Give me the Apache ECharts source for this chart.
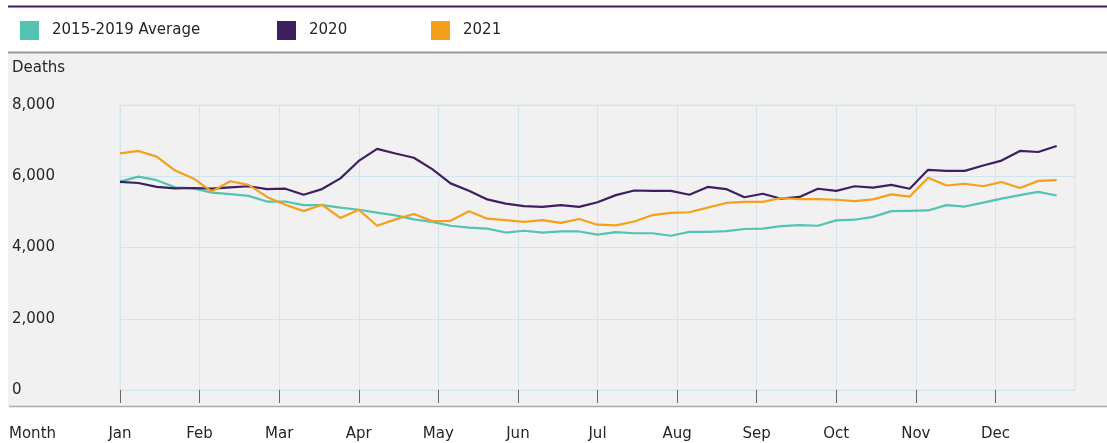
<!DOCTYPE html>
<html>
<head>
<meta charset="utf-8">
<script src="https://cdn.jsdelivr.net/npm/echarts@6/dist/echarts.min.js"></script>
<style>
  html, body { margin: 0; padding: 0; background: #fff; }
  #chart { width: 1107px; height: 443px; }
</style>
</head>
<body>
<div id="chart"></div>
<script>
// month labels, one per equal twelfth of the 52-week year
var months = ['Jan', 'Feb', 'Mar', 'Apr', 'May', 'Jun', 'Jul', 'Aug', 'Sep', 'Oct', 'Nov', 'Dec'];
var yTicks = [0, 2000, 4000, 6000, 8000];

// weekly deaths, weeks 1..52
var avg1519 = [5850, 5990, 5890, 5690, 5660, 5540, 5500, 5450, 5290, 5290, 5190, 5190, 5120, 5060, 4980, 4900, 4790, 4720, 4610,
  4560, 4530, 4420, 4470, 4420, 4450, 4450, 4360, 4430, 4400, 4400, 4330, 4440, 4440, 4460, 4520,
  4530, 4600, 4630, 4610, 4760, 4780, 4860, 5020, 5030, 5040, 5190, 5150, 5260, 5370, 5470, 5560, 5460];
var y2020 = [5840, 5810, 5700, 5660, 5670, 5650, 5690, 5720, 5640, 5650, 5480, 5640, 5940, 6430, 6770, 6640, 6520, 6200, 5800,
  5590, 5350, 5230, 5160, 5140, 5190, 5140, 5270, 5470, 5600, 5590, 5590, 5480, 5700, 5640, 5410,
  5510, 5370, 5420, 5650, 5590, 5720, 5680, 5760, 5650, 6180, 6150, 6150, 6300, 6440, 6710, 6680, 6850];
var y2021 = [6640, 6710, 6550, 6160, 5940, 5570, 5860, 5760, 5420, 5200, 5020, 5200, 4830, 5060, 4610, 4790, 4940, 4740, 4750,
  5020, 4810, 4770, 4720, 4770, 4690, 4800, 4640, 4620, 4730, 4910, 4970, 4990, 5120, 5250, 5280,
  5280, 5390, 5360, 5360, 5340, 5300, 5350, 5490, 5430, 5960, 5740, 5790, 5720, 5840, 5670, 5870, 5890];

var FONT = 'DejaVu Sans';
var TXT = '#262626';
var TEAL = '#55c3b2', PURPLE = '#3f1f5f', ORANGE = '#f5a01c';
var GRIDCOL = '#d3e4ee';
var monthStep = 52 / 12;
var monthVals = months.map(function (m, i) { return i * monthStep; });

function toPairs(arr) {
  return arr.map(function (v, i) { return [i, v]; });
}

function legendAt(left, name) {
  return {
    left: left, top: 21, padding: 0,
    icon: 'rect', itemWidth: 19, itemHeight: 19,
    selectedMode: false,
    textStyle: { fontFamily: FONT, fontSize: 15, color: TXT, padding: [0, 0, 0, 8] },
    data: [name]
  };
}

var chart = echarts.init(document.getElementById('chart'));

chart.setOption({
  animation: false,
  backgroundColor: '#fff',
  title: {
    text: 'Deaths', left: 12, top: 61, padding: 0,
    textStyle: { fontFamily: FONT, fontSize: 15, fontWeight: 'normal', color: TXT }
  },
  legend: [
    legendAt(20, '2015-2019 Average'),
    legendAt(277, '2020'),
    legendAt(431, '2021')
  ],
  graphic: [
    { type: 'rect', z: -10, silent: true, shape: { x: 8, y: 53, width: 1099, height: 353 }, style: { fill: '#f1f1f1' } },
    { type: 'line', silent: true, shape: { x1: 8, y1: 6.5, x2: 1107, y2: 6.5 }, style: { stroke: PURPLE, lineWidth: 2 } },
    { type: 'line', silent: true, shape: { x1: 8, y1: 52.5, x2: 1107, y2: 52.5 }, style: { stroke: '#999', lineWidth: 2 } },
    { type: 'line', silent: true, shape: { x1: 9, y1: 406.5, x2: 1107, y2: 406.5 }, style: { stroke: '#aaa', lineWidth: 1.5 } },
    { type: 'text', silent: true, left: 9, top: 427, style: { text: 'Month', fontFamily: FONT, fontSize: 15, fill: TXT } }
  ],
  grid: {
    left: 120, right: 32, top: 105, bottom: 53,
    show: true, borderColor: GRIDCOL, borderWidth: 1, backgroundColor: 'transparent'
  },
  xAxis: {
    type: 'value', min: 0, max: 52, interval: monthStep,
    position: 'bottom', offset: 16,
    axisLine: { show: false },
    axisTick: { show: true, length: 13, customValues: monthVals, lineStyle: { color: '#666', width: 1 } },
    axisLabel: {
      customValues: monthVals, margin: 21,
      fontFamily: FONT, fontSize: 15, color: TXT,
      formatter: function (v) { return months[Math.round(v / monthStep)] || ''; }
    },
    splitLine: { show: true, lineStyle: { color: GRIDCOL, width: 1 } }
  },
  yAxis: {
    type: 'value', min: yTicks[0], max: yTicks[yTicks.length - 1], interval: 2000,
    axisLine: { show: false },
    axisTick: { show: false },
    axisLabel: {
      align: 'left', margin: 108, padding: [3, 0, 0, 0],
      fontFamily: FONT, fontSize: 15, color: TXT,
      formatter: function (v) { return v.toLocaleString('en-US'); }
    },
    splitLine: { show: true, lineStyle: { color: GRIDCOL, width: 1 } }
  },
  series: [
    { name: '2015-2019 Average', type: 'line', showSymbol: false, symbol: 'none', color: TEAL, lineStyle: { width: 2.2 }, data: toPairs(avg1519) },
    { name: '2020', type: 'line', showSymbol: false, symbol: 'none', color: PURPLE, lineStyle: { width: 2.2 }, data: toPairs(y2020) },
    { name: '2021', type: 'line', showSymbol: false, symbol: 'none', color: ORANGE, lineStyle: { width: 2.2 }, data: toPairs(y2021) }
  ]
});
</script>
</body>
</html>
